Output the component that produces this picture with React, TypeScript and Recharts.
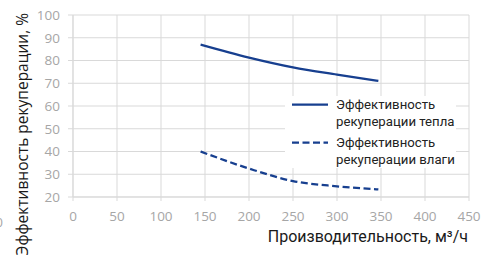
import { LineChart, Line, XAxis, YAxis, CartesianGrid, Legend } from "recharts";

const airflow = [145, 200, 250, 300, 347];
const heatRecovery = [87, 81.3, 77, 73.8, 71];
const moistureRecovery = [40, 32.5, 27, 24.7, 23.3];

const xTicks = [0, 50, 100, 150, 200, 250, 300, 350, 400, 450];
const yTicks = [20, 30, 40, 50, 60, 70, 80, 90, 100];

const seriesNames = ["Эффективность\nрекуперации тепла", "Эффективность\nрекуперации влаги"];

const BLUE = "#173f8f";
const GRID = "#d9d9d9";
const TICK = "#a6a6a6";

const data = airflow.map((x, i) => ({
  x,
  heat: heatRecovery[i],
  moisture: moistureRecovery[i],
}));

function LegendBox() {
  const items = [
    { name: seriesNames[0], dash: undefined },
    { name: seriesNames[1], dash: "7 3.5" },
  ];
  return (
    <div style={{ background: "#fff", width: 171, height: 72, fontFamily: "Roboto", fontSize: 13.2, color: "#222" }}>
      {items.map((it, i) => (
        <div key={i} style={{ display: "flex", alignItems: "flex-start", height: 38 }}>
          <svg width={51} height={18} style={{ flex: "none" }}>
            <line x1={7} x2={43} y1={8.5} y2={8.5} stroke={BLUE} strokeWidth={2.25} strokeDasharray={it.dash} />
          </svg>
          <div style={{ lineHeight: "17px", whiteSpace: "pre", marginTop: 0 }}>{it.name}</div>
        </div>
      ))}
    </div>
  );
}

export default function App() {
  return (
    <div style={{ position: "absolute", left: 0, top: 0, width: 481, height: 258, background: "#fff", overflow: "hidden" }}>
      <LineChart width={481} height={258} data={data} margin={{ top: 15, right: 12, left: 0, bottom: 0 }}>
        <CartesianGrid stroke={GRID} strokeWidth={1} />
        <XAxis
          dataKey="x"
          type="number"
          domain={[0, 450]}
          ticks={xTicks}
          interval={0}
          height={61}
          stroke={GRID}
          tickSize={4}
          tickMargin={10}
          tick={{ fill: TICK, fontSize: 13.5, fontFamily: "Open Sans" }}
          label={{
            content: () => (
              <text x={468} y={241.5} textAnchor="end" fontSize={16} fontFamily="Roboto" fill="#1a1a1a">
                Производительность, м³/ч
              </text>
            ),
          }}
        />
        <YAxis
          type="number"
          domain={[20, 100]}
          ticks={yTicks}
          interval={0}
          width={73}
          stroke={GRID}
          tickSize={5}
          tickMargin={8}
          tick={{ fill: TICK, fontSize: 13.5, fontFamily: "Open Sans" }}
          label={{
            content: () => (
              <g>
                <text
                  x={28}
                  y={13}
                  transform="rotate(-90, 28, 13)"
                  textAnchor="end"
                  fontSize={15.5}
                  fontFamily="Open Sans"
                  fill="#1a1a1a"
                >
                  Эффективность рекуперации, %
                </text>
                <text x={3} y={226.5} textAnchor="end" fontSize={13} fontFamily="Open Sans" fill={TICK}>
                  0
                </text>
              </g>
            ),
          }}
        />
        <Legend
          layout="horizontal"
          verticalAlign="middle"
          align="center"
          content={() => <LegendBox />}
          wrapperStyle={{ left: 285, top: 96, width: 171, height: 72 }}
        />
        <Line
          type="monotone"
          dataKey="heat"
          name={seriesNames[0]}
          stroke={BLUE}
          strokeWidth={2.25}
          dot={false}
          activeDot={false}
          isAnimationActive={false}
        />
        <Line
          type="monotone"
          dataKey="moisture"
          name={seriesNames[1]}
          stroke={BLUE}
          strokeWidth={2.25}
          strokeDasharray="7 3.5"
          dot={false}
          activeDot={false}
          isAnimationActive={false}
        />
      </LineChart>
    </div>
  );
}
